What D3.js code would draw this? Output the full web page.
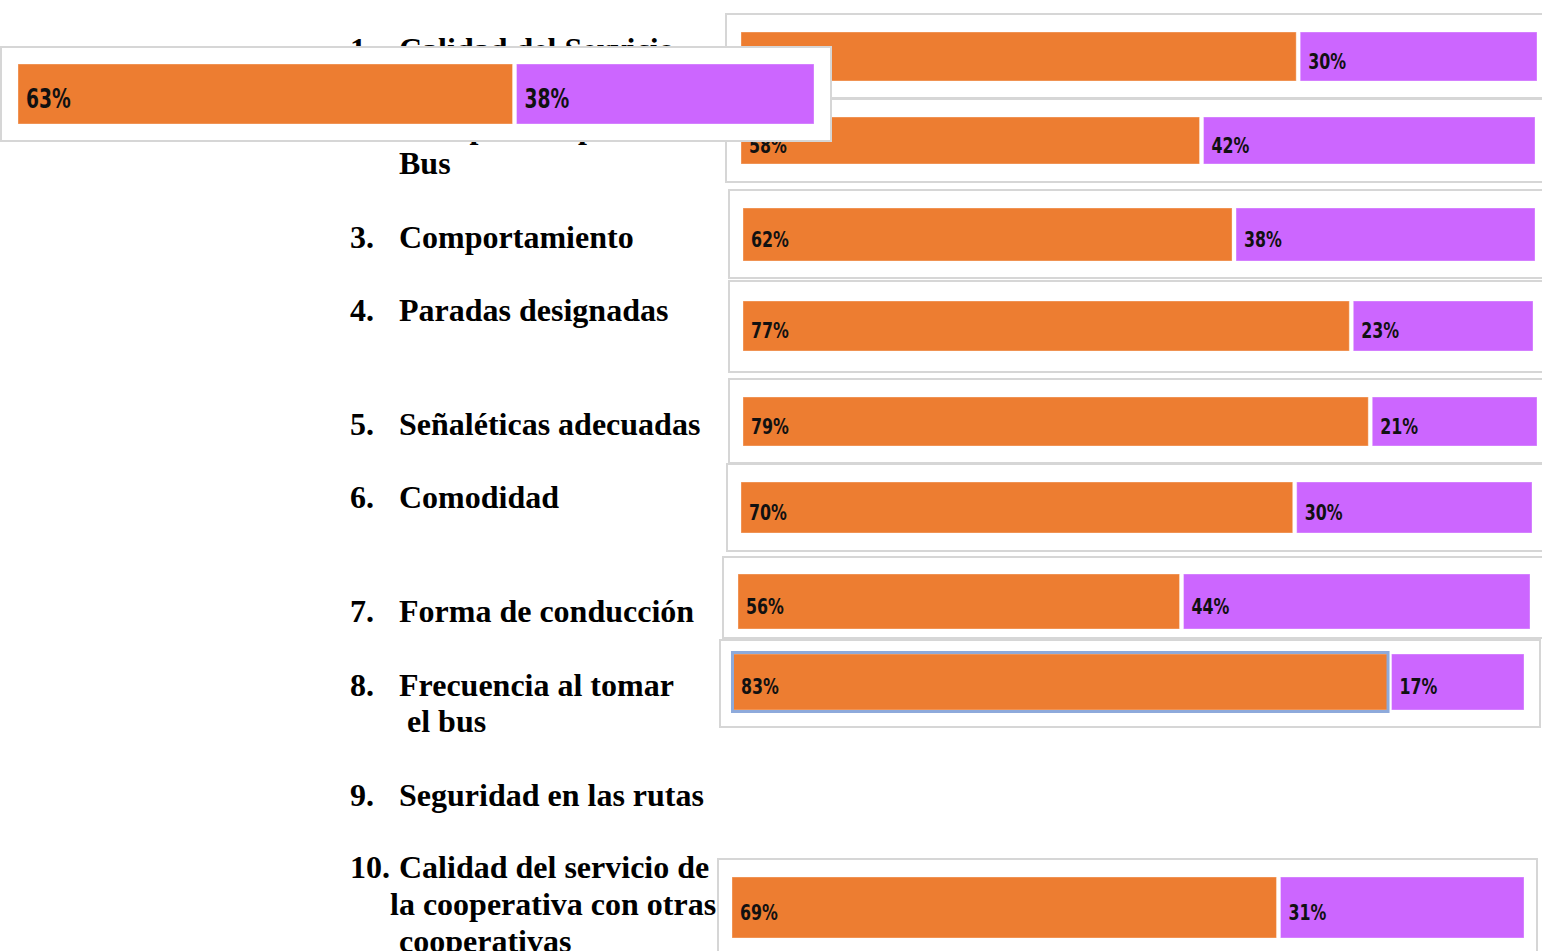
<!DOCTYPE html>
<html>
<head>
<meta charset="utf-8">
<script src="https://cdn.jsdelivr.net/npm/d3@7"></script>
<style>
  body { margin: 0; background: #fff; }
  .item { font-family: "Liberation Serif", "Times New Roman", serif; font-weight: bold; font-size: 32px; fill: #000; }
  .val { font-family: "Liberation Sans Narrow", "Arial Narrow", "DejaVu Sans Condensed", sans-serif; font-weight: bold; fill: #111; }
</style>
</head>
<body>
<div id="chart"></div>
<script>
// survey items (left column)
const itemNums = ["1.", "2.", "3.", "4.", "5.", "6.", "7.", "8.", "9.", "10."];
const itemLines = [
  ["Calidad del Servicio"],
  ["Tiempo de espera del", "Bus"],
  ["Comportamiento"],
  ["Paradas designadas"],
  ["Señaléticas adecuadas"],
  ["Comodidad"],
  ["Forma de conducción"],
  ["Frecuencia al tomar", "el bus"],
  ["Seguridad en las rutas"],
  ["Calidad del servicio de", "la cooperativa con otras", "cooperativas"]
];

// percentages per item (orange / purple); item 9 has no bar
const orangeVals = [70, 58, 62, 77, 79, 70, 56, 83, null, 69];
const purpleVals = [30, 42, 38, 23, 21, 30, 44, 17, null, 31];

// the pasted box floating over items 1-2
const overlayVals = [63, 38];

const colors = { orange: "#ED7D31", purple: "#CC66FF" };

// layout: text baselines and line indents
const textLayout = [
  { y: 60, dx: [0] },
  { y: 138, dx: [0, 0] },
  { y: 248, dx: [0] },
  { y: 321, dx: [0] },
  { y: 435, dx: [0] },
  { y: 508, dx: [0] },
  { y: 622, dx: [0] },
  { y: 696, dx: [0, 8] },
  { y: 806, dx: [0] },
  { y: 878, dx: [0, -9, 0] }
];
const lineHeights = [36, 36, 36, 36, 36, 36, 36, 36, 36, 37];

// layout: panel boxes and bar extents (one per item, null = no panel)
const panelLayout = [
  { box: [726, 14, 1546, 98], bar: [741, 1537, 32, 81] },
  { box: [726, 99, 1546, 182], bar: [741, 1535, 117, 164] },
  { box: [729, 190, 1546, 278], bar: [743, 1535, 208, 261] },
  { box: [729, 281, 1546, 372], bar: [743, 1533, 301, 351] },
  { box: [729, 379, 1546, 463], bar: [743, 1537, 397, 446] },
  { box: [727, 464, 1546, 551], bar: [741, 1532, 482, 533] },
  { box: [723, 557, 1546, 638], bar: [738, 1530, 574, 629] },
  { box: [720, 640, 1540, 727], bar: [733, 1524, 654, 710], outline: true },
  null,
  { box: [718, 859, 1537, 970], bar: [732, 1524, 877, 938] }
];
const overlayLayout = { box: [1, 47, 831, 141], bar: [18, 814, 64, 124], font: 26 };

const W = 1542, H = 951;
const svg = d3.select("#chart").append("svg")
  .attr("width", W).attr("height", H);

// item labels
itemNums.forEach((num, i) => {
  const t = textLayout[i];
  svg.append("text").attr("class", "item")
    .attr("x", 350).attr("y", t.y).text(num);
  itemLines[i].forEach((line, j) => {
    svg.append("text").attr("class", "item")
      .attr("x", 399 + t.dx[j])
      .attr("y", t.y + j * lineHeights[i])
      .text(line);
  });
});

function drawPanel(g, vals, lay) {
  const [bx0, by0, bx1, by1] = lay.box;
  const [x0, x1, y0, y1] = lay.bar;
  const fontSize = lay.font || 22;

  g.append("rect")
    .attr("x", bx0).attr("y", by0)
    .attr("width", bx1 - bx0).attr("height", by1 - by0)
    .attr("fill", "#fff")
    .attr("stroke", "#d6d6d6")
    .attr("stroke-width", 2);

  const total = d3.sum(vals);
  const x = d3.scaleLinear().domain([0, total]).range([x0, x1]);
  const segs = [
    { v: vals[0], start: 0, color: colors.orange },
    { v: vals[1], start: vals[0], color: colors.purple }
  ];

  g.selectAll(".seg")
    .data(segs)
    .enter()
    .append("rect")
      .attr("class", "seg")
      .attr("x", (d, i) => x(d.start) + (i ? 2 : 0))
      .attr("y", y0)
      .attr("width", (d, i) => x(d.start + d.v) - x(d.start) - 2)
      .attr("height", y1 - y0)
      .attr("fill", d => d.color)
      .attr("stroke", "rgba(255,255,255,0.35)")
      .attr("stroke-width", 1);

  if (lay.outline) {
    g.append("rect")
      .attr("x", x(0) - 0.5).attr("y", y0 - 1.5)
      .attr("width", x(vals[0]) - x(0) - 1).attr("height", y1 - y0 + 3)
      .attr("fill", "none")
      .attr("stroke", "#8EAADB")
      .attr("stroke-width", 3);
  }

  // condensed look: squeeze the labels horizontally
  g.selectAll(".val")
    .data(segs)
    .enter()
    .append("text")
      .attr("class", "val")
      .attr("transform", (d, i) =>
        `translate(${x(d.start) + (i ? 10 : 8)},${(y0 + y1) / 2 + fontSize * 0.55}) scale(0.8,1)`)
      .style("font-size", fontSize + "px")
      .text(d => d.v + "%");
}

panelLayout.forEach((lay, i) => {
  if (!lay || orangeVals[i] == null) return;
  drawPanel(svg.append("g"), [orangeVals[i], purpleVals[i]], lay);
});

// pasted box on top
drawPanel(svg.append("g"), overlayVals, overlayLayout);
</script>
</body>
</html>
